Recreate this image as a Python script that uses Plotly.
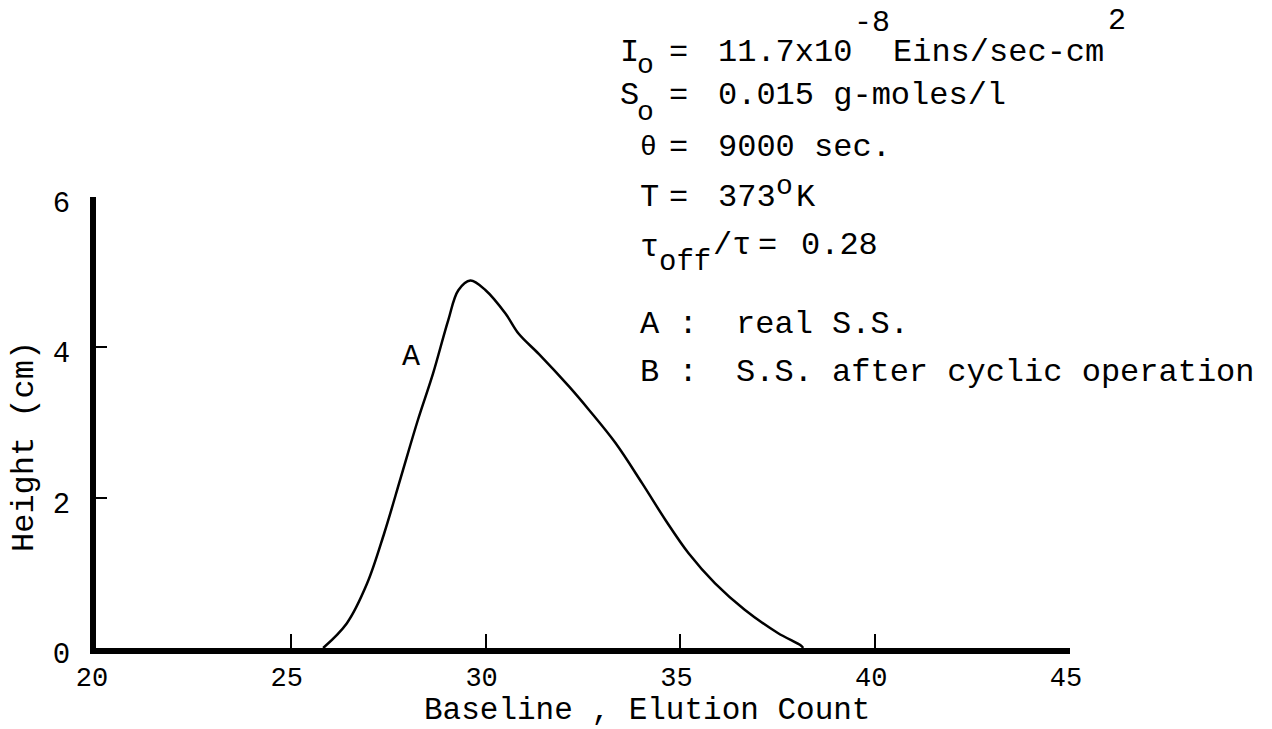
import plotly.graph_objects as go

# Elution profile A (real steady state)
elution_count = [25.83, 26.44, 26.96, 27.40, 27.83, 28.26, 28.65, 29.04, 29.30, 29.61,
                 30.00, 30.51, 30.85, 31.37, 32.14, 32.65, 33.33, 34.02, 34.62, 35.21,
                 35.89, 36.65, 37.50, 38.10, 38.15]
height_cm = [0.00, 0.33, 0.86, 1.53, 2.28, 3.03, 3.65, 4.36, 4.76, 4.89,
             4.76, 4.45, 4.18, 3.91, 3.48, 3.17, 2.73, 2.19, 1.70, 1.26,
             0.86, 0.51, 0.20, 0.03, 0.00]

x_ticks = [20, 25, 30, 35, 40, 45]
y_ticks = [0, 2, 4, 6]

FONT = "Liberation Mono"
W, H = 1272, 729
ML, MR, MT, MB = 96, 202, 197, 81
PW, PH = W - ML - MR, H - MT - MB

# Typewriter-style parameter block: each piece sits on a fixed character grid
# (column, text, vertical centre in px from top, font size)
COL0, PITCH = 618, 19.5
param_pieces = [
    (0, "I", 53, 32), (0.85, "o", 66, 28), (2.5, "=", 53, 32), (5, "11.7x10", 53, 32),
    (12, "-8", 23, 30), (14, "Eins/sec-cm", 53, 32), (25, "2", 21, 30),
    (0, "S", 95, 32), (0.85, "o", 112, 28), (2.5, "=", 95, 32), (5, "0.015 g-moles/l", 95, 32),
    (1, "θ", 147, 28), (2.5, "=", 147, 32), (5, "9000 sec.", 147, 32),
    (1, "T", 197, 32), (2.5, "=", 197, 32), (5, "373", 197, 32), (8, "o", 186, 28), (9, "K", 197, 32),
    (1, "τ", 247, 32), (2, "off", 262, 29), (4.75, "/τ", 245, 32), (7.1, "=", 245, 32),
    (9.3, "0.28", 245, 32),
    (1, "A :\u00a0\u00a0real S.S.", 324, 32),
    (1, "B :\u00a0\u00a0S.S. after cyclic operation", 372, 32),
]


def paper_x(px):
    return (px - ML) / PW


def paper_y(py):
    return (H - MB - py) / PH


fig = go.Figure()
fig.add_trace(go.Scatter(
    x=elution_count, y=height_cm, mode="lines",
    line=dict(color="black", width=2.5, shape="spline", smoothing=1.0),
    showlegend=False, hoverinfo="skip",
))

for col, txt, yc, size in param_pieces:
    fig.add_annotation(x=paper_x(COL0 + col * PITCH), y=paper_y(yc),
                       xref="paper", yref="paper", text=txt, showarrow=False,
                       xanchor="left", yanchor="middle",
                       font=dict(family=FONT, size=size, color="black"))

# curve label
fig.add_annotation(x=28.08, y=3.87, xref="x", yref="y", text="A", showarrow=False,
                   font=dict(family=FONT, size=30, color="black"))

# axis titles
fig.add_annotation(x=paper_x(647), y=paper_y(710), xref="paper", yref="paper",
                   text="Baseline , Elution Count", showarrow=False,
                   xanchor="center", yanchor="middle",
                   font=dict(family=FONT, size=31, color="black"))
fig.add_annotation(x=paper_x(24), y=paper_y(447), xref="paper", yref="paper",
                   text="Height (cm)", showarrow=False, textangle=-90,
                   xanchor="center", yanchor="middle",
                   font=dict(family=FONT, size=32, color="black"))

fig.update_layout(
    width=W, height=H,
    margin=dict(l=ML, r=MR, t=MT, b=MB),
    paper_bgcolor="white", plot_bgcolor="white",
    font=dict(family=FONT, color="black"),
)
fig.update_xaxes(
    range=[20, 45], tickvals=x_ticks, ticktext=[str(v) for v in x_ticks],
    showgrid=False, zeroline=False,
    showline=True, linecolor="black", linewidth=6,
    ticks="inside", ticklen=14, tickwidth=2, tickcolor="black",
    tickfont=dict(family=FONT, size=27, color="black"),
    ticklabelshift=-4, ticklabelstandoff=0,
)
fig.update_yaxes(
    range=[0, 6], tickvals=y_ticks, ticktext=[str(v) for v in y_ticks],
    showgrid=False, zeroline=False,
    showline=True, linecolor="black", linewidth=6,
    ticks="inside", ticklen=11, tickwidth=2, tickcolor="black",
    tickfont=dict(family=FONT, size=29, color="black"),
    ticklabelshift=5, ticklabelstandoff=14,
)

fig.write_html("out.html")
